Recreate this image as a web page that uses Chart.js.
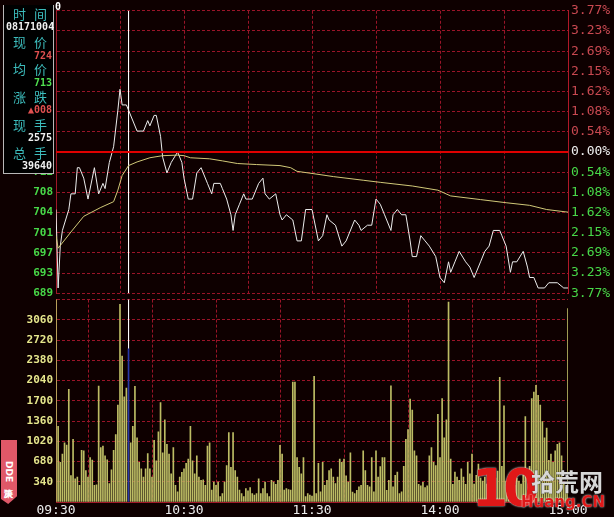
<!DOCTYPE html>
<html><head><meta charset="utf-8">
<script src="https://cdn.jsdelivr.net/npm/chart.js@4.4.1/dist/chart.umd.min.js"></script>
<style>
html,body{margin:0;padding:0;background:#0e0000;}
#wrap{position:relative;width:614px;height:517px;overflow:hidden;background:#0e0000;}
canvas{position:absolute;left:0;}
#cA{top:0;}
#cB{top:290px;}
.box{position:absolute;left:3px;top:5px;width:49px;height:168px;background:#000;border:1px solid #b8b8b8;border-top:none;}
.lab{position:absolute;left:4px;width:50px;display:flex;justify-content:space-between;padding:0 7px 0 9px;box-sizing:border-box;font:13px "Noto Sans CJK SC";color:#3cbcbc;line-height:14px;white-space:nowrap;}
.val{position:absolute;right:562px;font:bold 10px "DejaVu Sans Mono";line-height:12px;white-space:nowrap;}
.dde{position:absolute;left:1px;top:440px;width:16px;height:64px;background:#e05868;clip-path:polygon(0 0,100% 0,100% 88%,45% 100%,0 92%);color:#fff;font:bold 9px "DejaVu Sans";writing-mode:vertical-rl;text-align:center;line-height:16px;}
.wm10{position:absolute;left:472px;top:460px;font:bold 52px "DejaVu Sans";color:#e01818;letter-spacing:-5px;text-shadow:0 0 2px #fff;line-height:56px;}
.wmcn{position:absolute;left:531px;top:467px;font:bold 24px "Noto Sans CJK SC";color:#d8d8d8;text-shadow:0 0 1px #000;line-height:28px;}
.wmen{position:absolute;left:521px;top:493px;font:bold 15px "DejaVu Sans";color:#e01818;text-shadow:0 0 2px #fff;line-height:18px;}
.zero{position:absolute;left:55px;top:1px;font:bold 10px "DejaVu Sans Mono";color:#fff;}
</style></head>
<body>
<div id="wrap">
<canvas id="cA" width="614" height="304"></canvas>
<canvas id="cB" width="614" height="227"></canvas>
<div class="box"></div>
<div class="lab" style="top:7px"><span>时</span><span>间</span></div>
<div class="val" style="left:6px;right:auto;top:21px;color:#f0f0f0">08171004</div>
<div class="lab" style="top:35px"><span>现</span><span>价</span></div>
<div class="val" style="top:50px;color:#e05050">724</div>
<div class="lab" style="top:62px"><span>均</span><span>价</span></div>
<div class="val" style="top:77px;color:#50e050">713</div>
<div class="lab" style="top:90px"><span>涨</span><span>跌</span></div>
<div class="val" style="top:104px;color:#e05050">▲008</div>
<div class="lab" style="top:118px"><span>现</span><span>手</span></div>
<div class="val" style="top:132px;color:#f0f0f0">2575</div>
<div class="lab" style="top:146px"><span>总</span><span>手</span></div>
<div class="val" style="top:160px;color:#f0f0f0">39640</div>
<div class="zero">0</div>
<div class="dde">DDE决策</div>
<div class="wm10">10</div>
<div class="wmcn">拾荒网</div>
<div class="wmen">Huang.CN</div>
</div>
<script>
// ---- data ----
const prevClose = 716;
const priceMin = 689, priceMax = 743;
const priceLabels = ['743','739','735','731','728','724','720','716','712','708','704','701','697','693','689']; // top -> bottom
const pctLabels = ['3.77%','3.23%','2.69%','2.15%','1.62%','1.08%','0.54%','0.00%','0.54%','1.08%','1.62%','2.15%','2.69%','3.23%','3.77%'];
const timeLabels = ['09:30','','10:30','','11:30','','14:00','','15:00'];
const volLabels = ['','340','680','1020','1360','1700','2040','2380','2720','3060','']; // bottom -> top
const volMax = 3400;
const cursorMinute = 34, cursorVolume = 2575;

const priceMinutes = [0,1,2,3,6,7,9,10,11,13,15,17,18,20,22,23,25,27,29,30,31,33,34,38,41,43,44,46,47,49,50,52,54,57,59,60,62,64,66,68,69,71,73,74,77,78,80,82,83,84,86,88,89,92,95,97,98,100,103,105,106,108,111,113,115,117,120,121,123,125,127,128,131,134,136,140,142,143,146,148,150,152,154,157,158,160,162,164,166,167,169,171,173,175,178,180,182,184,185,187,189,192,194,196,199,201,203,205,208,209,211,213,214,216,219,221,222,224,226,229,231,235,238,240];
const prices = [705,690,698,701,705,708,708,713,713,711,707,711,713,708,710,709,714,717,724,728,725,725,724,720,720,722,721,723,723,719,715,712,714,716,714,711,707,707,712,713,712,710,708,710,710,709,707,704,701,704,706,708,707,707,710,711,708,707,708,704,703,704,703,699,699,705,705,703,699,700,704,703,702,698,699,703,702,701,702,702,707,706,704,701,704,705,704,704,699,696,696,700,699,698,696,692,691,695,693,695,697,695,694,692,695,697,698,701,701,700,698,693,695,695,697,694,692,692,690,690,691,691,690,690];

const avgMinutes = [0,1,7,13,21,27,29,31,34,38,44,50,57,60,63,72,78,85,94,105,110,113,120,130,144,152,167,179,185,199,211,222,230,240];
const avgPrices = [700.0,697.6,700.7,703.7,705.4,706.5,708.7,711.5,713.4,714.1,714.9,715.3,715.4,715.3,714.9,714.7,714.3,713.8,713.6,713.4,713.0,712.3,711.9,711.3,710.6,710.2,709.5,708.7,707.6,706.9,706.3,705.8,705.0,704.5];

const volumes = [3800,1270,666,803,996,957,1892,445,1051,390,420,280,869,858,528,420,748,704,280,290,
1947,913,940,776,710,308,539,869,1133,1628,3322,2453,1766,1914,2575,996,1270,1942,1078,666,
556,420,556,814,556,420,1034,693,1177,1672,825,1381,968,803,473,913,280,170,420,500,
556,649,720,1270,693,473,776,420,363,374,280,940,996,200,336,280,336,90,143,336,
611,1166,583,1166,528,420,200,143,90,226,187,242,143,116,143,390,143,226,336,143,
90,363,336,297,363,952,803,200,226,209,200,2013,2013,748,583,473,748,90,143,116,
100,2112,143,650,170,666,280,363,528,556,418,308,418,720,666,720,440,336,825,165,
143,198,253,281,858,528,281,253,748,170,858,418,594,748,748,198,363,1950,253,446,
503,143,170,600,1051,1216,1727,1546,858,776,297,270,330,242,270,776,913,666,611,1474,
748,1738,1078,1381,3360,721,297,503,418,363,556,418,297,666,473,803,300,450,638,400,
350,420,300,480,360,280,400,520,2096,600,1617,350,300,250,320,280,400,350,300,450,
1436,500,600,1738,1848,1958,1793,1628,1353,1078,1243,700,803,666,858,968,996,776,300,250,
3250];

// ---- helpers ----
const GRID = '#9a1428';
const DASH = [3,2];
const timeTicks = timeLabels.map((_, i) => i * 30);
function stepTicks(min, max, n){ const a=[]; for(let i=0;i<=n;i++) a.push({value:min+(max-min)*i/n}); return a; }
const priceLabelsAsc = priceLabels.slice().reverse();
const pctLabelsAsc = pctLabels.slice().reverse();
const pColor = i => i < 7 ? '#48d848' : (i === 7 ? '#f0f0f0' : '#c84850');

new Chart(document.getElementById('cA'), {
  type: 'line',
  data: { datasets: [
    { data: [{x:0,y:prevClose},{x:240,y:prevClose}], borderColor:'#e00000', borderWidth:2, pointRadius:0 },
    { data: avgMinutes.map((m,i)=>({x:m,y:avgPrices[i]})), borderColor:'#d0c878', borderWidth:1, pointRadius:0, tension:0 },
    { data: priceMinutes.map((m,i)=>({x:m,y:prices[i]})), borderColor:'#ececec', borderWidth:1, pointRadius:0, tension:0 },
    { data: [{x:cursorMinute,y:priceMax},{x:cursorMinute,y:priceMin}], borderColor:'#ffffff', borderWidth:1, pointRadius:0 }
  ]},
  options: {
    animation:false, responsive:false, maintainAspectRatio:false,
    layout:{padding:{top:6,bottom:8,left:0,right:0}},
    plugins:{legend:{display:false}, tooltip:{enabled:false}},
    scales:{
      x:{type:'linear', min:0, max:240,
         afterBuildTicks:s=>{s.ticks=timeTicks.map(v=>({value:v}));},
         ticks:{display:false}, grid:{color:GRID, drawTicks:false},
         border:{display:false, dash:DASH}, afterFit:s=>{s.height=0;}},
      y:{position:'left', min:priceMin, max:priceMax,
         afterBuildTicks:s=>{s.ticks=stepTicks(priceMin,priceMax,14);},
         ticks:{callback:(v,i)=>priceLabelsAsc[i], color:c=>pColor(c.index), padding:3,
                font:{family:'DejaVu Sans Mono', size:11, weight:'bold'}},
         grid:{color:GRID, drawTicks:false}, border:{display:true, color:'#a01828', dash:DASH},
         afterFit:s=>{s.width=56;}},
      y2:{position:'right', min:priceMin, max:priceMax,
         afterBuildTicks:s=>{s.ticks=stepTicks(priceMin,priceMax,14);},
         ticks:{callback:(v,i)=>pctLabelsAsc[i], color:c=>pColor(c.index), padding:3,
                font:{family:'DejaVu Sans Mono', size:13}},
         grid:{display:false, drawTicks:false}, border:{display:true, color:'#b01828'},
         afterFit:s=>{s.width=46;}}
    }
  }
});

new Chart(document.getElementById('cB'), {
  type: 'bar',
  data: { datasets: [
    { type:'bar', data: volumes.map((v,i)=>({x:i,y:v})), barThickness:1, grouped:false,
      backgroundColor: c => (c.raw && c.raw.x === cursorMinute) ? '#2838a8' : '#bcbc64', borderWidth:0 },
    { type:'line', data:[{x:cursorMinute,y:volMax},{x:cursorMinute,y:cursorVolume}], borderColor:'#ffffff', borderWidth:1, pointRadius:0 }
  ]},
  options: {
    animation:false, responsive:false, maintainAspectRatio:false,
    layout:{padding:{top:6,bottom:0,left:0,right:46}},
    plugins:{legend:{display:false}, tooltip:{enabled:false}},
    scales:{
      x:{type:'linear', min:0, max:240, offset:false,
         afterBuildTicks:s=>{s.ticks=timeTicks.map(v=>({value:v}));},
         ticks:{callback:(v,i)=>timeLabels[i], autoSkip:false, maxRotation:0, padding:1, color:'#ececec',
                font:{family:'DejaVu Sans Mono', size:13}},
         grid:{color:GRID, drawTicks:false}, border:{display:true, color:'#a01828', dash:DASH},
         afterFit:s=>{s.height=15;}},
      y:{position:'left', min:0, max:volMax,
         afterBuildTicks:s=>{s.ticks=stepTicks(0,volMax,10);},
         ticks:{callback:(v,i)=>volLabels[i], color:'#e6e68c', padding:3,
                font:{family:'DejaVu Sans Mono', size:11, weight:'bold'}},
         grid:{color:GRID, drawTicks:false}, border:{display:true, color:'#a01828', dash:DASH},
         afterFit:s=>{s.width=56;}}
    }
  }
});
</script>
</body></html>
